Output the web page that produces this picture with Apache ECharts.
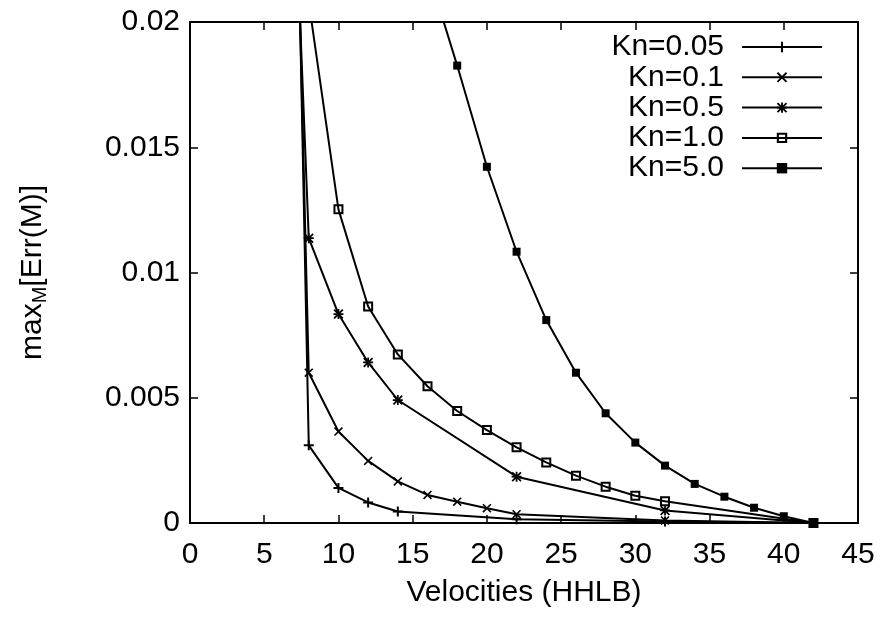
<!DOCTYPE html>
<html><head><meta charset="utf-8">
<script src="https://cdn.jsdelivr.net/npm/echarts@6/dist/echarts.min.js"></script>
<style>html,body{margin:0;padding:0;background:#fff}#c{width:882px;height:617px}</style>
</head><body><div id="c"></div>
<script>
// ---- data ----
const seriesNames = ['Kn=0.05', 'Kn=0.1', 'Kn=0.5', 'Kn=1.0', 'Kn=5.0'];
const kn005X = [6, 8, 10, 12, 14, 22, 32, 42];
const kn005Y = [0.061, 0.0031, 0.0014, 0.00082, 0.00046, 0.00015, 0.00006, 0];
const kn01X = [6, 8, 10, 12, 14, 16, 18, 20, 22, 32, 42];
const kn01Y = [0.054, 0.0060, 0.00365, 0.00248, 0.00166, 0.00112, 0.00085, 0.00059, 0.00035, 0.0001, 0];
const kn05X = [6, 8, 10, 12, 14, 22, 32, 42];
const kn05Y = [0.041, 0.01137, 0.00834, 0.00641, 0.00491, 0.00185, 0.0005, 0];
const kn1X = [8, 10, 12, 14, 16, 18, 20, 22, 24, 26, 28, 30, 32, 42];
const kn1Y = [0.0208, 0.01252, 0.00864, 0.00673, 0.00546, 0.00447, 0.00371, 0.00302, 0.00242, 0.00189, 0.00145, 0.00109, 0.00087, 0];
const kn5X = [16, 18, 20, 22, 24, 26, 28, 30, 32, 34, 36, 38, 40, 42];
const kn5Y = [0.0221, 0.01826, 0.01422, 0.01083, 0.0081, 0.0060, 0.00438, 0.00321, 0.00229, 0.00156, 0.00105, 0.00061, 0.00027, 0];
const xTickStep = 5, xMin = 0, xMax = 45;
const yTickStep = 0.005, yMin = 0, yMax = 0.02;

// ---- marker shapes ----
const PLUS = 'path://M4,0H6V4H10V6H6V10H4V6H0V4H4Z';
const XS = 'M9.29,-0.71L10.71,0.71L0.71,10.71L-0.71,9.29Z M0.71,-0.71L10.71,9.29L9.29,10.71L-0.71,0.71Z';
const CROSS = 'path://' + XS;
const STAR = 'path://M4,-0.71H6V4H10.71V6H6V10.71H4V6H-0.71V4H4Z ' + XS;
const OSQ = 'path://M0,0H10V10H0Z M2,2V8H8V2Z';
const FSQ = 'rect';

const FONT = '"Liberation Sans", Arial, Helvetica, sans-serif';
const xs = [kn005X, kn01X, kn05X, kn1X, kn5X];
const ys = [kn005Y, kn01Y, kn05Y, kn1Y, kn5Y];
const syms = [PLUS, CROSS, STAR, OSQ, FSQ];
const sizes = [10, 9, 10, 10, 8];

const series = seriesNames.map((n, i) => ({
  name: n,
  type: 'line',
  data: xs[i].map((x, j) => [x, ys[i][j]]),
  symbol: syms[i],
  symbolSize: sizes[i],
  symbolKeepAspect: true,
  showAllSymbol: true,
  clip: true,
  lineStyle: { color: '#000', width: 2 },
  itemStyle: { color: '#000', borderWidth: 0 },
  emphasis: { disabled: true },
  animation: false,
  z: 2
}));

function axisCommon() {
  return {
    axisLine: { show: true, onZero: false, lineStyle: { color: '#000', width: 2 } },
    axisTick: { show: true, inside: true, length: 8, lineStyle: { color: '#000', width: 1.5 } },
    splitLine: { show: false }
  };
}

const chart = echarts.init(document.getElementById('c'), null, { renderer: 'canvas' });
chart.setOption({
  backgroundColor: '#fff',
  animation: false,
  textStyle: { fontFamily: FONT },
  grid: { left: 190, right: 24, top: 22, bottom: 94, containLabel: false, outerBoundsMode: 'none' },
  legend: {
    data: seriesNames,
    orient: 'vertical',
    right: 54,
    top: 27,
    align: 'right',
    itemWidth: 80,
    itemHeight: 13,
    itemGap: 0.3,
    selectedMode: false,
    textStyle: { fontSize: 30, color: '#000', fontFamily: FONT, padding: [0, 13, 0, 0], lineHeight: 30 }
  },
  xAxis: [
    Object.assign({
      type: 'value', min: xMin, max: xMax, interval: xTickStep, position: 'bottom',
      axisLabel: { color: '#000', fontSize: 30, fontFamily: FONT, margin: 17 },
      name: 'Velocities (HHLB)', nameLocation: 'middle', nameGap: 55,
      nameTextStyle: { color: '#000', fontSize: 30, fontFamily: FONT }
    }, axisCommon()),
    Object.assign({
      type: 'value', min: xMin, max: xMax, interval: xTickStep, position: 'top',
      axisLabel: { show: false }
    }, axisCommon())
  ],
  yAxis: [
    Object.assign({
      type: 'value', min: yMin, max: yMax, interval: yTickStep, position: 'left',
      axisLabel: { color: '#000', fontSize: 30, fontFamily: FONT, margin: 10 },
      name: '{a|max}{b|M}{a|[Err(M)]}', nameLocation: 'middle', nameRotate: 90, nameGap: 140,
      nameTextStyle: {
        color: '#000', fontFamily: FONT,
        rich: {
          a: { fontSize: 30, color: '#000', fontFamily: FONT, lineHeight: 34 },
          b: { fontSize: 20, color: '#000', fontFamily: FONT, lineHeight: 22, verticalAlign: 'bottom' }
        }
      }
    }, axisCommon()),
    Object.assign({
      type: 'value', min: yMin, max: yMax, interval: yTickStep, position: 'right',
      axisLabel: { show: false }
    }, axisCommon())
  ],
  series: series
});
</script>
</body></html>
